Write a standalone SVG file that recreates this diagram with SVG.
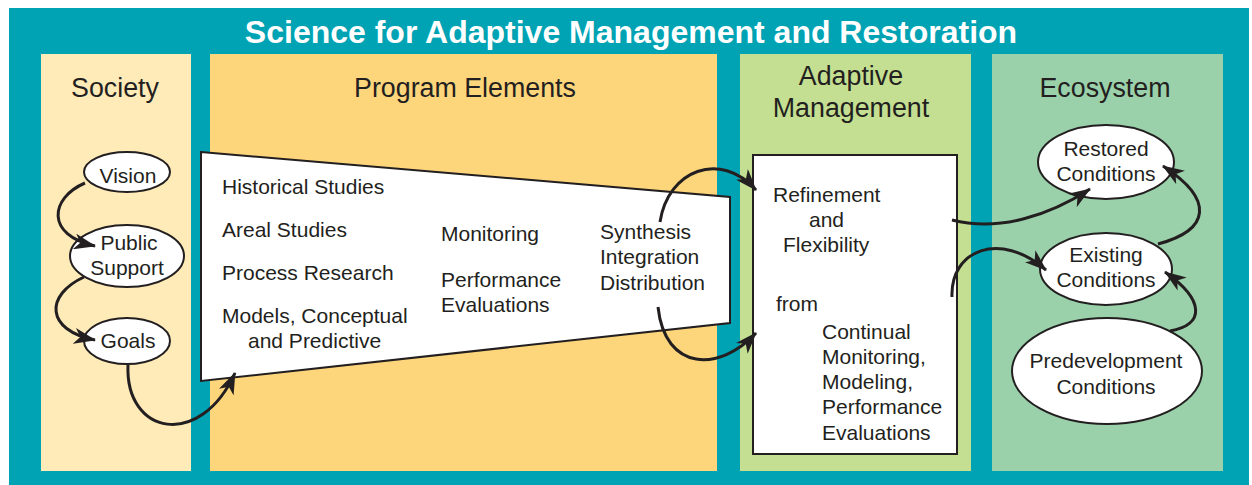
<svg xmlns="http://www.w3.org/2000/svg" width="1252" height="485" viewBox="0 0 1252 485">
<style>
text{font-family:"Liberation Sans",Arial,sans-serif;fill:#231F20}
.h{font-size:26.8px;text-anchor:middle}
.t{font-size:21px}
.c{text-anchor:middle}
.node{fill:#fff;stroke:#231F20;stroke-width:2}
.con{fill:none;stroke:#231F20;stroke-width:3;marker-end:url(#ah)}
</style>
<defs>
<marker id="ah" viewBox="0 0 22 16" refX="21" refY="8" markerWidth="22" markerHeight="16" markerUnits="userSpaceOnUse" orient="auto">
<path d="M0,0 L22,8 L0,16 L6,8 Z" fill="#231F20"/>
</marker>
</defs>
<rect x="0" y="0" width="1252" height="485" fill="#fff"/>
<rect x="9" y="8" width="1240" height="477" fill="#00A3B4"/>
<text x="631" y="43" style="font-size:32px;font-weight:bold;fill:#fff;text-anchor:middle">Science for Adaptive Management and Restoration</text>
<g id="panel-society"><rect x="41" y="54" width="150" height="417" fill="#FEEBB8"/><text class="h" x="115" y="97">Society</text></g>
<g id="panel-program"><rect x="210" y="54" width="507" height="417" fill="#FDD57B"/><text class="h" x="465" y="97">Program Elements</text></g>
<g id="panel-adaptive"><rect x="740" y="54" width="231" height="417" fill="#C5DF92"/><text class="h" x="851" y="85">Adaptive</text><text class="h" x="851" y="117">Management</text></g>
<g id="panel-ecosystem"><rect x="992" y="54" width="231" height="417" fill="#9AD1AA"/><text class="h" x="1105" y="97">Ecosystem</text></g>

<g id="vision"><ellipse class="node" cx="127" cy="172" rx="43" ry="20"/><text class="t c" x="128" y="183">Vision</text></g>
<g id="public-support"><ellipse class="node" cx="127" cy="256" rx="57" ry="31"/><text class="t c" x="129" y="250">Public</text><text class="t c" x="127" y="275">Support</text></g>
<g id="goals"><ellipse class="node" cx="127" cy="341" rx="43" ry="23"/><text class="t c" x="128" y="348">Goals</text></g>

<g id="program-elements">
<polygon class="node" points="201,152 730,197 730,323 201,381"/>
<text class="t" x="222" y="194">Historical Studies</text>
<text class="t" x="222" y="237">Areal Studies</text>
<text class="t" x="222" y="280">Process Research</text>
<text class="t" x="222" y="323">Models, Conceptual</text>
<text class="t" x="248" y="348">and Predictive</text>
<text class="t" x="441" y="241">Monitoring</text>
<text class="t" x="441" y="287">Performance</text>
<text class="t" x="441" y="312">Evaluations</text>
<text class="t" x="600" y="239">Synthesis</text>
<text class="t" x="600" y="264">Integration</text>
<text class="t" x="600" y="290">Distribution</text>
</g>

<g id="adaptive-box">
<rect class="node" x="753" y="155" width="204" height="299"/>
<text class="t" x="773" y="202">Refinement</text>
<text class="t" x="809" y="227">and</text>
<text class="t" x="783" y="252">Flexibility</text>
<text class="t" x="776" y="311">from</text>
<text class="t" x="822" y="339">Continual</text>
<text class="t" x="822" y="364">Monitoring,</text>
<text class="t" x="822" y="389">Modeling,</text>
<text class="t" x="822" y="414">Performance</text>
<text class="t" x="822" y="440">Evaluations</text>
</g>

<g id="restored"><ellipse class="node" cx="1106" cy="162" rx="68" ry="37"/><text class="t c" x="1106" y="156">Restored</text><text class="t c" x="1106" y="181">Conditions</text></g>
<g id="existing"><ellipse class="node" cx="1106" cy="269" rx="66" ry="36"/><text class="t c" x="1106" y="262">Existing</text><text class="t c" x="1106" y="287">Conditions</text></g>
<g id="predevelopment"><ellipse class="node" cx="1107" cy="371" rx="95" ry="53"/><text class="t c" x="1106" y="368">Predevelopment</text><text class="t c" x="1106" y="394">Conditions</text></g>

<g id="connectors">
<path class="con" d="M85,183 C50,198 45,235 95,246"/>
<path class="con" d="M84,277 C45,295 45,330 95,340"/>
<path class="con" d="M128,365 C125,435 200,450 235,373"/>
<path class="con" d="M660,222 C668,170 720,150 756,190"/>
<path class="con" d="M658,307 C665,372 720,372 756,333"/>
<path class="con" d="M952,220 C1000,232 1050,215 1090,189"/>
<path class="con" d="M952,297 C950,250 1000,230 1046,270"/>
<path class="con" d="M1158,244 C1210,230 1215,200 1163,166"/>
<path class="con" d="M1170,331 C1205,325 1205,300 1165,272"/>
</g>
</svg>
